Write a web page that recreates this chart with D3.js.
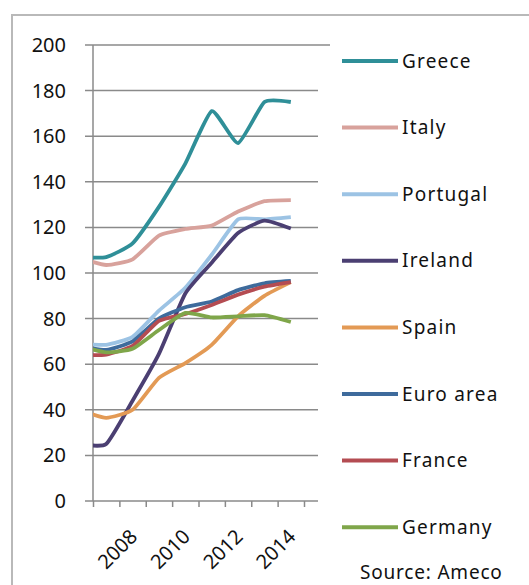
<!DOCTYPE html>
<html>
<head>
<meta charset="utf-8">
<script src="https://cdnjs.cloudflare.com/ajax/libs/d3/7.8.5/d3.min.js"></script>
<style>
  body { margin: 0; background: #fff; }
  svg { display: block; }
  text { font-family: "Noto Sans", "Liberation Sans", sans-serif; fill: #111; }
</style>
</head>
<body>
<svg id="debt" width="529" height="585"></svg>
<script>
  // Government debt, % of GDP (Ameco)
  var years = [2006, 2007, 2008, 2009, 2010, 2011, 2012, 2013, 2014];
  var countries = ["Greece", "Italy", "Portugal", "Ireland", "Spain", "Euro area", "France", "Germany"];

  var greece   = [107, 107, 113, 129, 148, 171, 157, 175, 175];
  var italy    = [106.5, 103.5, 106, 116.4, 119.3, 120.8, 127, 131.5, 132];
  var portugal = [69, 68.5, 72, 83.5, 93.5, 108, 123.5, 123.5, 124.5];
  var ireland  = [25, 25, 44, 64.5, 91, 104.5, 117.5, 123, 119.5];
  var spain    = [40, 36.5, 40, 54, 60.5, 68.5, 81, 90, 96];
  var euroArea = [68, 66.3, 70, 80, 85, 87.5, 92.5, 95.5, 96.5];
  var france   = [64, 64.2, 68, 79, 82, 86, 90.5, 94, 96];
  var germany  = [68, 65.2, 66.8, 75, 82.5, 80.5, 81, 81.5, 78.5];

  var yTicks = [0, 20, 40, 60, 80, 100, 120, 140, 160, 180, 200];
  var xLabels = [2008, 2010, 2012, 2014];

  var colors = ["#2f8f98", "#d8a29c", "#9cc3e4", "#4b3f72", "#e39a55", "#3e6b9c", "#b44c52", "#7fa64a"];

  var values = [greece, italy, portugal, ireland, spain, euroArea, france, germany];
  var series = countries.map(function(name, i) {
    return { name: name, color: colors[i], points: years.map(function(yr, j) { return { year: yr, value: values[i][j] }; }) };
  });

  var svg = d3.select("svg#debt");

  var plotLeft = 93, plotRight = 318, plotTop = 45, plotBottom = 501;

  var x = d3.scaleLinear()
    .domain([2006.5, 2014.5])
    .range([plotLeft, 304]);

  var y = d3.scaleLinear()
    .domain([0, 200])
    .range([plotBottom, plotTop]);

  // Outer frame
  svg.append('rect')
    .attr('x', 12)
    .attr('y', 15)
    .attr('width', 560)
    .attr('height', 600)
    .style('fill', 'none')
    .style('stroke', '#b9b9b9')
    .style('stroke-width', 2);

  svg.append('defs').append('clipPath')
    .attr('id', 'plot-clip')
    .append('rect')
    .attr('x', plotLeft)
    .attr('y', plotTop - 5)
    .attr('width', plotRight - plotLeft)
    .attr('height', plotBottom - plotTop + 5);

  // Gridlines and y labels
  var grid = svg.append('g').attr('class', 'grid');

  grid.selectAll('line')
    .data(yTicks)
    .enter().append('line')
    .attr('x1', plotLeft - 8)
    .attr('x2', function(d) { return d === 200 ? 330 : plotRight; })
    .attr('y1', function(d) { return y(d); })
    .attr('y2', function(d) { return y(d); })
    .style('stroke', '#8a8a8a')
    .style('stroke-width', 1.5);

  grid.selectAll('text')
    .data(yTicks)
    .enter().append('text')
    .attr('x', 66)
    .attr('y', function(d) { return y(d); })
    .attr('dy', '0.35em')
    .style('text-anchor', 'end')
    .style('font-size', '20px')
    .text(function(d) { return d; });

  // Y axis line
  svg.append('line')
    .attr('x1', plotLeft)
    .attr('x2', plotLeft)
    .attr('y1', plotTop)
    .attr('y2', plotBottom)
    .style('stroke', '#8a8a8a')
    .style('stroke-width', 1.5);

  // X axis tick marks between categories
  var xAxis = d3.axisBottom(x)
    .tickValues(d3.range(2006.5, 2015, 1))
    .tickSize(6)
    .tickFormat('');

  var xAxisG = svg.append('g')
    .attr('transform', `translate(0, ${plotBottom})`)
    .call(xAxis);
  xAxisG.select('.domain').remove();
  xAxisG.selectAll('line').style('stroke', '#8a8a8a').style('stroke-width', 1.5);

  svg.append('g').selectAll('text')
    .data(xLabels)
    .enter().append('text')
    .attr('transform', function(d) { return `translate(${x(d) + 6}, 538) rotate(-45)`; })
    .style('text-anchor', 'end')
    .style('font-size', '20px')
    .text(function(d) { return d; });

  // Lines
  var line = d3.line()
    .x(function(d) { return x(d.year); })
    .y(function(d) { return y(d.value); })
    .curve(d3.curveCardinal.tension(0.5));

  svg.append('g')
    .attr('clip-path', 'url(#plot-clip)')
    .selectAll('path')
    .data(series)
    .enter().append('path')
    .attr('d', function(d) { return line(d.points); })
    .style('fill', 'none')
    .style('stroke', function(d) { return d.color; })
    .style('stroke-width', 3.8)
    .style('stroke-linejoin', 'round');

  // Legend
  var legend = svg.append('g').selectAll('g')
    .data(series)
    .enter().append('g')
    .attr('transform', function(d, i) { return `translate(342, ${61 + i * 66.6})`; });

  legend.append('line')
    .attr('x1', 0)
    .attr('x2', 56)
    .style('stroke', function(d) { return d.color; })
    .style('stroke-width', 4);

  legend.append('text')
    .attr('x', 60)
    .attr('dy', '0.35em')
    .style('font-size', '19px')
    .style('letter-spacing', '1.2px')
    .text(function(d) { return d.name; });

  svg.append('text')
    .attr('x', 360)
    .attr('y', 579)
    .style('font-size', '19px')
    .style('letter-spacing', '0.8px')
    .text('Source: Ameco');
</script>
</body>
</html>
